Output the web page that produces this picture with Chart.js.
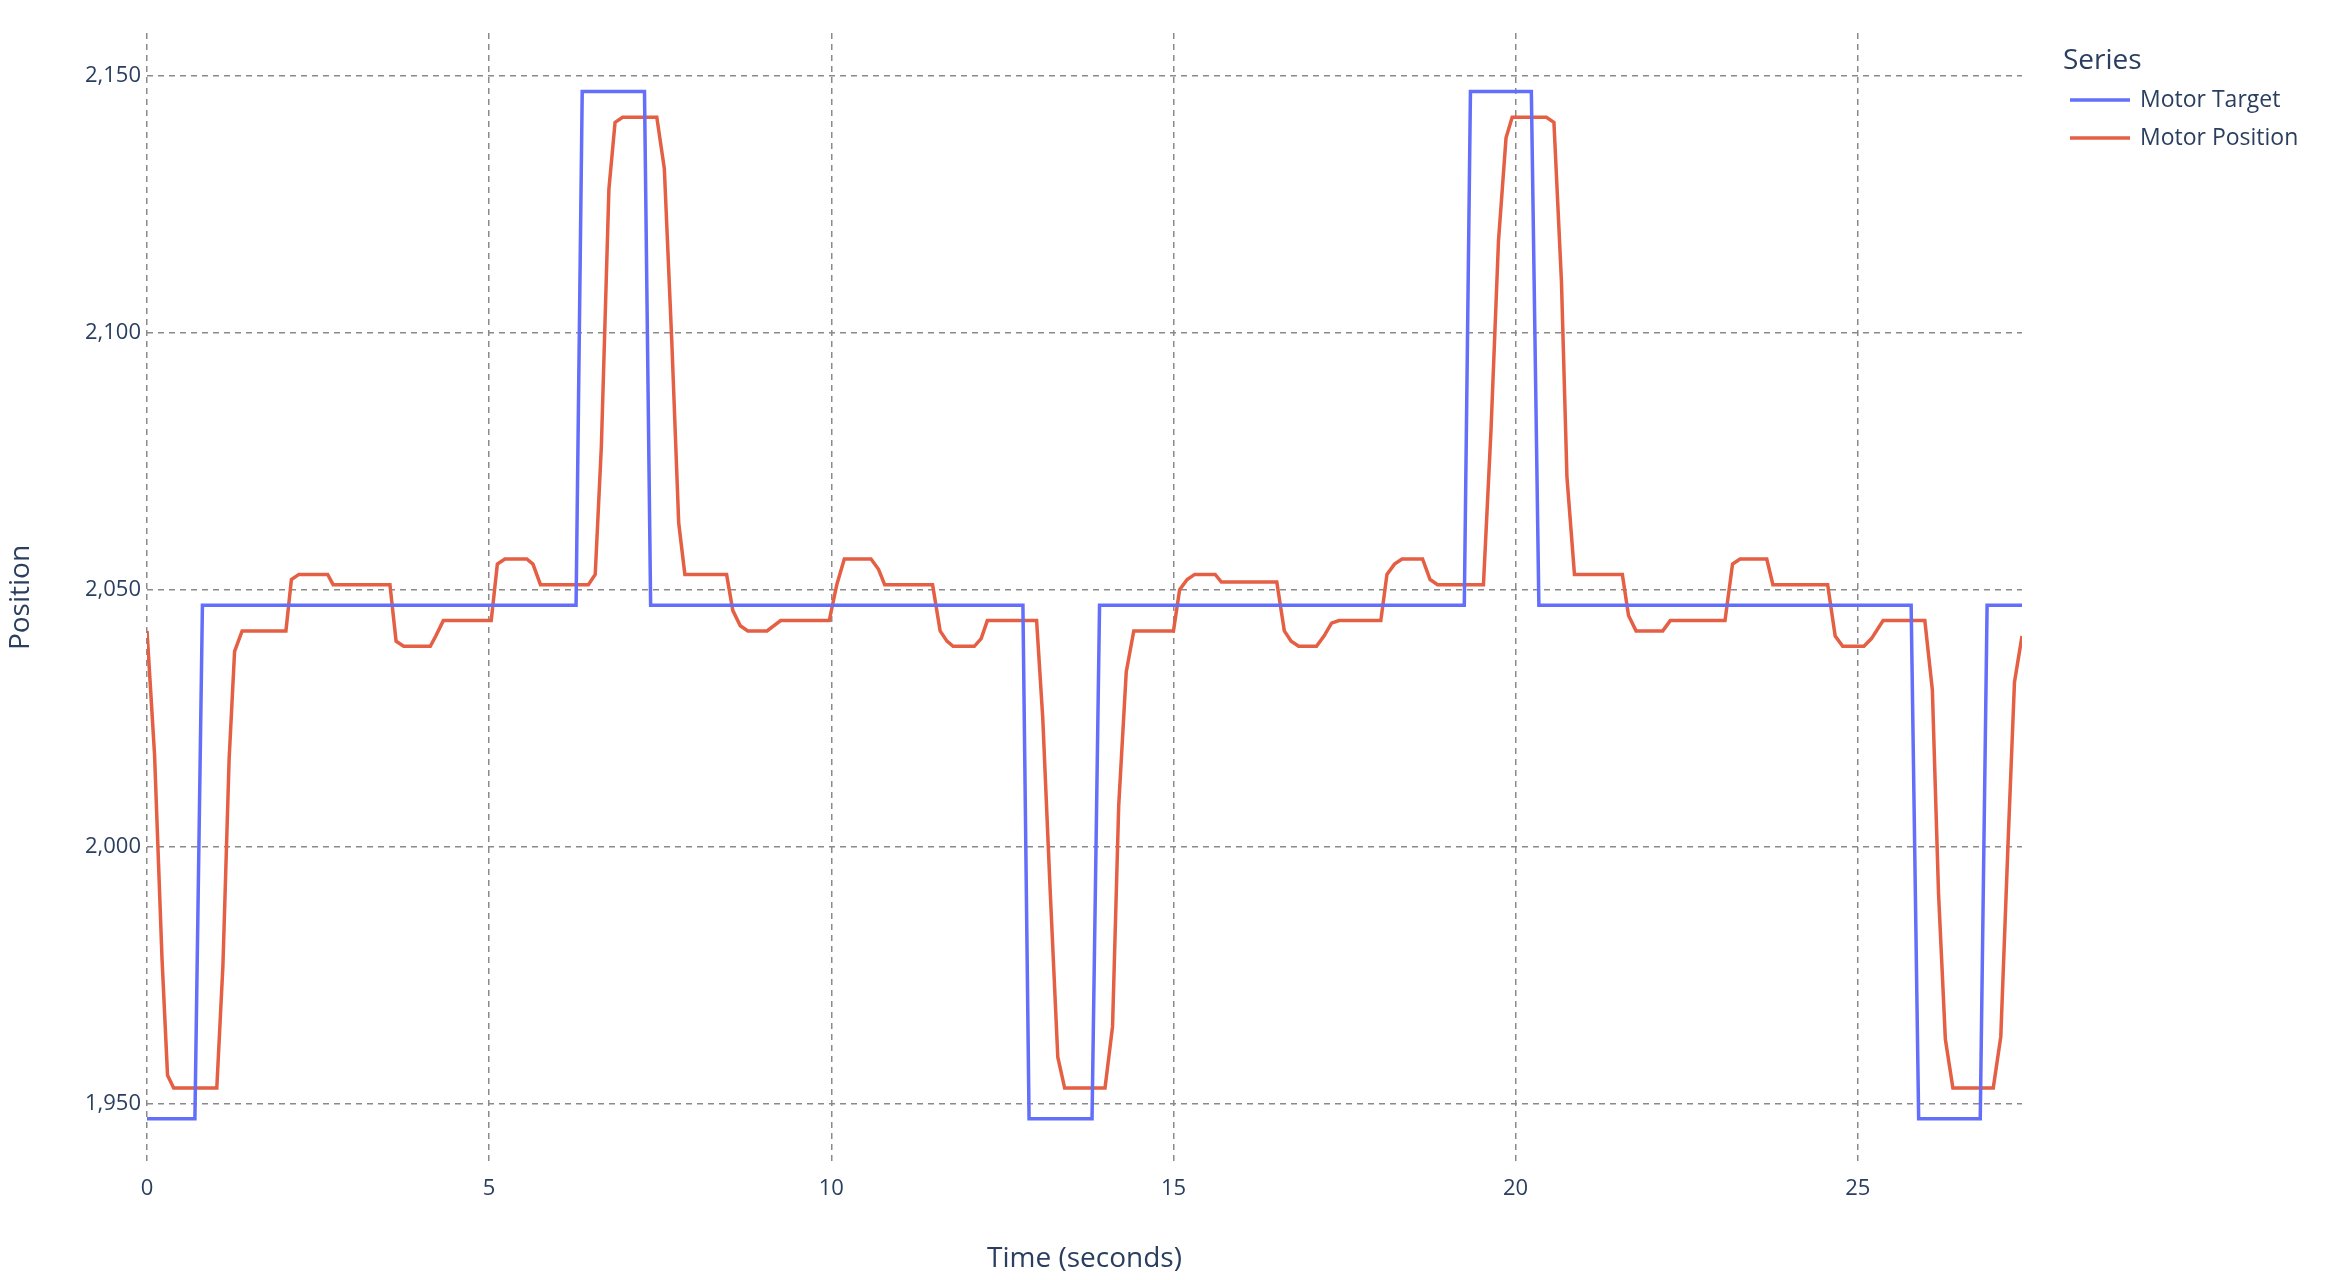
<!DOCTYPE html>
<html>
<head>
<meta charset="utf-8">
<script src="https://cdn.jsdelivr.net/npm/chart.js@4"></script>
<style>
  html, body { margin: 0; padding: 0; background: #fff; }
  #wrap { width: 2336px; height: 1280px; }
</style>
</head>
<body>
<div id="wrap"><canvas id="myChart" width="2336" height="1280"></canvas></div>
<script>
// values
const targetTime = [0, 0.70, 0.81, 6.27, 6.36, 7.27, 7.36, 12.80, 12.89, 13.81, 13.92, 19.25, 19.34, 20.23, 20.34, 25.78, 25.89, 26.79, 26.89, 27.40];
const targetValue = [1947, 1947, 2047, 2047, 2147, 2147, 2047, 2047, 1947, 1947, 2047, 2047, 2147, 2147, 2047, 2047, 1947, 1947, 2047, 2047];

const positionTime = [0.00, 0.11, 0.22, 0.30, 0.39, 1.02, 1.11, 1.20, 1.28, 1.39, 2.03, 2.11, 2.22, 2.64, 2.72, 3.55, 3.64, 3.75, 4.14, 4.22, 4.33,
  5.03, 5.12, 5.23, 5.55, 5.64, 5.75, 6.45, 6.55, 6.64, 6.75, 6.84, 6.95, 7.45, 7.56, 7.67, 7.77, 7.86, 8.47, 8.56, 8.67, 8.78, 9.06, 9.26,
  9.97, 10.08, 10.19, 10.58, 10.69, 10.78, 11.48, 11.59, 11.69, 11.78, 12.09, 12.19, 12.28, 13.00, 13.09, 13.20, 13.31, 13.41, 14.00, 14.11,
  14.20, 14.31, 14.42, 15.00, 15.09, 15.20, 15.31, 15.61, 15.70, 16.51, 16.62, 16.72, 16.83, 17.09, 17.20, 17.31, 17.42, 18.03, 18.12, 18.23,
  18.34, 18.64, 18.75, 18.86, 19.53, 19.64, 19.75, 19.86, 19.95, 20.45, 20.56, 20.67, 20.75, 20.86, 21.56, 21.65, 21.76, 22.15, 22.26, 23.06,
  23.17, 23.28, 23.67, 23.76, 24.56, 24.67, 24.78, 25.09, 25.20, 25.37, 25.98, 26.09, 26.18, 26.28, 26.39, 26.98, 27.09, 27.20, 27.29, 27.40];
const positionValue = [2042, 2018, 1978, 1955.5, 1953, 1953, 1977, 2017, 2038, 2042, 2042, 2052, 2053, 2053, 2051, 2051, 2040, 2039, 2039, 2041, 2044,
  2044, 2055, 2056, 2056, 2055, 2051, 2051, 2053, 2078, 2128, 2141, 2142, 2142, 2132, 2098, 2063, 2053, 2053, 2046, 2043, 2042, 2042, 2044,
  2044, 2051, 2056, 2056, 2054, 2051, 2051, 2042, 2040, 2039, 2039, 2040.5, 2044, 2044, 2025, 1991, 1959, 1953, 1953, 1965,
  2008, 2034, 2042, 2042, 2050, 2052, 2053, 2053, 2051.5, 2051.5, 2042, 2040, 2039, 2039, 2041, 2043.5, 2044, 2044, 2053, 2055,
  2056, 2056, 2052, 2051, 2051, 2081, 2118, 2138, 2142, 2142, 2141, 2110, 2072, 2053, 2053, 2045, 2042, 2042, 2044, 2044,
  2055, 2056, 2056, 2051, 2051, 2041, 2039, 2039, 2040.5, 2044, 2044, 2030.5, 1991, 1962.5, 1953, 1953, 1963, 2002, 2032, 2041];

const yTicks = [1950, 2000, 2050, 2100, 2150];
const xTicks = [0, 5, 10, 15, 20, 25];

const FONT = '"Open Sans", "Noto Sans", sans-serif';
const TEXT = '#2a3f5f';
const GRID = '#8a8a8a';

const toPoints = (xs, ys) => xs.map((x, i) => ({ x: x, y: ys[i] }));

// plotly-like legend drawn on the right
const sideLegend = {
  id: 'sideLegend',
  afterDraw(chart) {
    const c = chart.ctx;
    c.save();
    c.fillStyle = TEXT;
    c.textBaseline = 'middle';
    c.font = '28px ' + FONT;
    c.fillText('Series', 2063, 61);
    c.font = '23px ' + FONT;
    chart.data.datasets.forEach((ds, i) => {
      const y = 100 + i * 38;
      c.strokeStyle = ds.borderColor;
      c.lineWidth = 3.5;
      c.beginPath();
      c.moveTo(2070, y);
      c.lineTo(2130, y);
      c.stroke();
      c.fillText(ds.label, 2140, y);
    });
    c.restore();
  }
};

const ctx = document.getElementById('myChart');

new Chart(ctx, {
  type: 'line',
  data: {
    datasets: [{
      label: 'Motor Target',
      data: toPoints(targetTime, targetValue),
      borderColor: '#636efa',
      borderWidth: 3.5,
      pointRadius: 0,
      tension: 0
    }, {
      label: 'Motor Position',
      data: toPoints(positionTime, positionValue),
      borderColor: '#e45f43',
      borderWidth: 3.5,
      pointRadius: 0,
      tension: 0
    }]
  },
  options: {
    responsive: false,
    animation: false,
    layout: { padding: { top: 33, right: 314, left: 0, bottom: 0 } },
    plugins: { legend: { display: false }, tooltip: { enabled: false } },
    scales: {
      x: {
        type: 'linear',
        min: 0,
        max: 27.4,
        afterBuildTicks: (s) => { s.ticks = xTicks.map(v => ({ value: v })); },
        afterFit: (s) => { s.height = 118; },
        grid: { color: GRID, lineWidth: 1.5, drawTicks: false },
        border: { display: false, dash: [6, 5] },
        ticks: { color: TEXT, font: { family: FONT, size: 22 }, padding: 14, maxRotation: 0 },
        title: { display: true, text: 'Time (seconds)', color: TEXT, font: { family: FONT, size: 28 }, padding: { top: 18 } }
      },
      y: {
        min: 1938.6,
        max: 2158.4,
        afterBuildTicks: (s) => { s.ticks = yTicks.map(v => ({ value: v })); },
        afterFit: (s) => { s.width = 147; },
        grid: { color: GRID, lineWidth: 1.5, drawTicks: false },
        border: { display: false, dash: [6, 5] },
        ticks: { color: TEXT, font: { family: FONT, size: 22 }, padding: 6 },
        title: { display: true, text: 'Position', color: TEXT, font: { family: FONT, size: 28 }, padding: { bottom: 0 } }
      }
    }
  },
  plugins: [sideLegend]
});
</script>
</body>
</html>
